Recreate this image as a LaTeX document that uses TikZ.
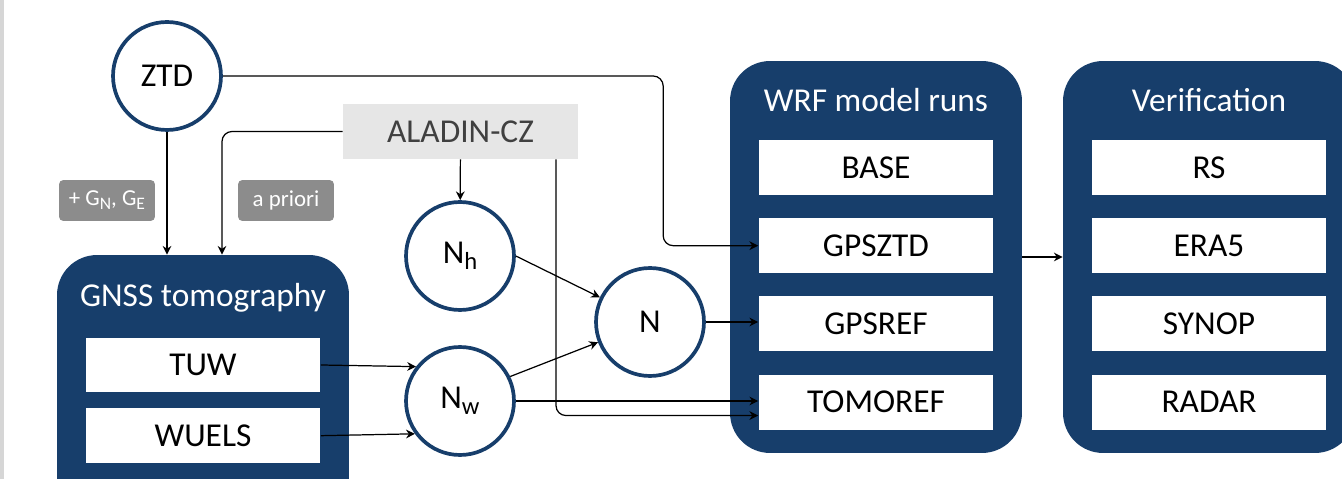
\documentclass[tikz,border=0pt]{standalone}
\usepackage{fontspec}
\setmainfont{Carlito}
\usetikzlibrary{
  arrows.meta,
  positioning,
  calc
}
\definecolor{wrfblue}{HTML}{173E6B}
\definecolor{aladinfill}{HTML}{E6E6E6}
\definecolor{aladintext}{HTML}{404040}
\definecolor{taggray}{HTML}{8C8C8C}
\definecolor{edgegray}{HTML}{D6D6D6}
\newcommand{\lowsub}[2][14]{\raisebox{-0.35ex}{\fontsize{#1}{#1}\selectfont #2}}

\begin{document}
\begin{tikzpicture}[
      x=0.02cm, y=-0.02cm,
      group/.style={
        rectangle, rounded corners=0.8cm,
        minimum width=5.84cm, minimum height=7.84cm,
        fill=wrfblue
      },
      grouptitle/.style={font=\fontsize{19}{22}\selectfont\color{white}},
      run/.style={
        rectangle, fill=white,
        minimum width=4.7cm, minimum height=1.1cm,
        font=\fontsize{19}{22}\selectfont
      },
      var/.style={
        circle, draw=wrfblue, line width=2.1pt, fill=white,
        minimum size=2.16cm, inner sep=0pt,
        font=\fontsize{19}{22}\selectfont
      },
      source/.style={
        rectangle, fill=aladinfill,
        minimum width=4.7cm, minimum height=1.1cm,
        font=\fontsize{19}{22}\selectfont\color{aladintext}
      },
      tag/.style={
        rectangle, rounded corners=2.5pt, fill=taggray,
        minimum width=1.92cm, minimum height=0.82cm,
        font=\fontsize{13}{15}\selectfont\color{white}
      },
      arrow/.style={-{Stealth[length=5pt, width=5pt]}, line width=0.7pt, black}
    ]
      \useasboundingbox (0,0) rectangle (1342,479);
      \clip (0,0) rectangle (1342,479);
      \fill[edgegray] (0,0) rectangle (3.5,479);

      % Groups
      \node[group] (gnss) at (203,451) {};
      \node[grouptitle] (gnsstitle) at (203,298) {GNSS tomography};
      \node[run] (tuw) at (203,365) {TUW};
      \node[run, below=0.3cm of tuw] (wuels) {WUELS};

      \node[group] (wrf) at (876,257) {};
      \node[grouptitle] (wrftitle) at (876,100) {WRF model runs};
      \node[run] (base) at (876,167.5) {BASE};
      \node[run, below=0.45cm of base] (gpsztd) {GPSZTD};
      \node[run, below=0.45cm of gpsztd] (gpsref) {GPSREF};
      \node[run, below=0.45cm of gpsref] (tomoref) {TOMOREF};

      \node[group] (verif) at (1209,257) {};
      \node[grouptitle] (veriftitle) at (1209,100) {Verification};
      \node[run] (rs) at (1209,167.5) {RS};
      \node[run, below=0.45cm of rs] (era) {ERA5};
      \node[run, below=0.45cm of era] (synop) {SYNOP};
      \node[run, below=0.45cm of synop] (radar) {RADAR};

      % Inputs and refractivities
      \node[var] (ztd) at (167,76) {ZTD};
      \node[source] (aladin) at (460.5,131.5) {ALADIN-CZ};
      \node[var] (nh) at (460,256) {N\lowsub{h}};
      \node[var] (nw) at (460,401) {N\lowsub{w}};
      \node[var] (n) at (650,322) {N};

      \node[tag] (grad) at (107,200.5) {+ G\lowsub[10]{N}, G\lowsub[10]{E}};
      \node[tag] (prior) at (286,200.5) {a priori};

      % Arrows
      \draw[arrow] (ztd.south) -- (ztd.south |- gnss.north);
      \draw[arrow, rounded corners=0.2cm] (aladin.west) -| ([xshift=0.38cm]gnss.north);
      \draw[arrow, rounded corners=0.2cm] (ztd.east) -| ($(gpsztd.west)+(-95,0)$) -- (gpsztd.west);
      \draw[arrow] (aladin) -- (nh);
      \draw[arrow, rounded corners=0.2cm] ([xshift=1.91cm]aladin.south) |- ([yshift=-0.27cm]tomoref.west);
      \draw[arrow] (tuw.east) -- (nw.142);
      \draw[arrow] (wuels.east) -- (nw.216);
      \draw[arrow] (nh.east) -- (n);
      \draw[arrow] (nw.26) -- (n);
      \draw[arrow] (n.east) -- (n.east -| gpsref.west);
      \draw[arrow] (nw.east) -- (nw.east -| tomoref.west);
      \draw[arrow] (wrf) -- (verif);
    \end{tikzpicture}
\end{document}
